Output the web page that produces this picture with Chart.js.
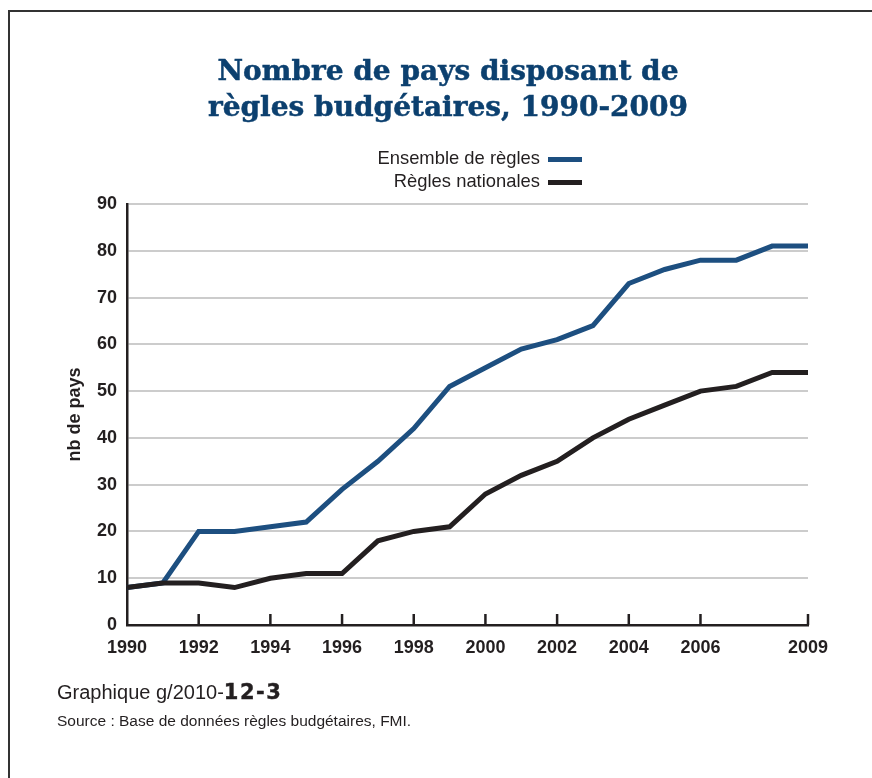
<!DOCTYPE html>
<html>
<head>
<meta charset="utf-8">
<script src="https://cdn.jsdelivr.net/npm/chart.js@4.4.0/dist/chart.umd.min.js"></script>
<style>
  html, body { margin: 0; padding: 0; background: #fff; }
  #wrap { position: relative; width: 872px; height: 778px; overflow: hidden; }
  #frame { position: absolute; left: 8px; top: 10px; right: -10px; bottom: -10px;
           border-top: 2px solid #333; border-left: 2px solid #333; }
  #title { position: absolute; left: 0; width: 896px; top: 53px; text-align: center;
           font-family: "DejaVu Serif", serif; font-weight: bold; font-size: 28px;
           line-height: 36px; color: #0c406f; -webkit-text-stroke: 0.5px #0c406f; }
  #fig { position: absolute; left: 57px; top: 680px; font-family: "Liberation Sans", Arial, sans-serif;
         font-size: 20px; color: #231f20; }
  #fig b { font-family: "DejaVu Sans", sans-serif; font-weight: 900; letter-spacing: 1.5px; font-size: 21px;
           -webkit-text-stroke: 0.4px #231f20; }
  #src { position: absolute; left: 57px; top: 712px; font-family: "Liberation Sans", Arial, sans-serif;
         font-size: 15.5px; color: #231f20; }
  canvas { position: absolute; left: 0; top: 0; }
</style>
</head>
<body>
<div id="wrap">
  <canvas id="c" width="872" height="778"></canvas>
  <div id="frame"></div>
  <div id="title">Nombre de pays disposant de<br>règles budgétaires, 1990-2009</div>
  <div id="fig">Graphique g/2010-<b>12-3</b></div>
  <div id="src">Source : Base de données règles budgétaires, FMI.</div>
</div>
<script>
const years = ['1990','1991','1992','1993','1994','1995','1996','1997','1998','1999',
               '2000','2001','2002','2003','2004','2005','2006','2007','2008','2009'];
const ensembleRegles = [8, 9, 20, 20, 21, 22, 29, 35, 42, 51, 55, 59, 61, 64, 73, 76, 78, 78, 81, 81];
const reglesNationales = [8, 9, 9, 8, 10, 11, 11, 18, 20, 21, 28, 32, 35, 40, 44, 47, 50, 51, 54, 54];
const xTickLabels = ['1990','1992','1994','1996','1998','2000','2002','2004','2006','2009'];
const yTicks = [0, 10, 20, 30, 40, 50, 60, 70, 80, 90];
const seriesNames = ['Ensemble de règles', 'Règles nationales'];
const axisTitle = 'nb de pays';

const BLUE = '#1d4f80';
const DARK = '#231f20';
const FONT = '"Liberation Sans", Arial, sans-serif';

const legendPlugin = {
  id: 'customLegend',
  afterDraw(chart) {
    const ctx = chart.ctx;
    ctx.save();
    ctx.font = '18.4px ' + FONT;
    ctx.textAlign = 'right';
    ctx.textBaseline = 'middle';
    const rows = [159, 182];
    chart.data.datasets.forEach((ds, i) => {
      const y = rows[i];
      ctx.fillStyle = DARK;
      ctx.fillText(ds.label, 540, y);
      ctx.strokeStyle = ds.borderColor;
      ctx.lineWidth = 5;
      ctx.beginPath();
      ctx.moveTo(548, y + 0.5);
      ctx.lineTo(582, y + 0.5);
      ctx.stroke();
    });
    ctx.restore();
  }
};

const tickMarkPlugin = {
  id: 'innerTicks',
  afterDatasetsDraw(chart) {
    const xs = chart.scales.x;
    const ctx = chart.ctx;
    ctx.save();
    ctx.strokeStyle = DARK;
    ctx.lineWidth = 2.5;
    xTickLabels.forEach((lab, i) => {
      if (i === 0) return;
      const idx = years.indexOf(lab);
      const px = xs.getPixelForValue(idx);
      ctx.beginPath();
      ctx.moveTo(px, xs.top);
      ctx.lineTo(px, xs.top - 11);
      ctx.stroke();
    });
    ctx.restore();
  }
};

new Chart(document.getElementById('c'), {
  type: 'line',
  data: {
    labels: years,
    datasets: [
      { label: seriesNames[0], data: ensembleRegles, borderColor: BLUE, borderWidth: 5,
        pointRadius: 0, tension: 0, fill: false, order: 2, borderJoinStyle: 'miter' },
      { label: seriesNames[1], data: reglesNationales, borderColor: DARK, borderWidth: 5,
        pointRadius: 0, tension: 0, fill: false, order: 1, borderJoinStyle: 'miter' }
    ]
  },
  options: {
    responsive: false,
    animation: false,
    events: [],
    layout: { padding: { left: 0, right: 64, top: 204, bottom: 0 } },
    plugins: { legend: { display: false }, title: { display: false }, tooltip: { enabled: false } },
    scales: {
      x: {
        type: 'category',
        offset: false,
        grid: { display: false },
        border: { display: true, color: DARK, width: 2.5 },
        ticks: {
          autoSkip: false, maxRotation: 0, padding: 4, color: DARK,
          font: { family: FONT, size: 18, weight: 'bold' },
          callback: function(v) { const l = years[v]; return xTickLabels.includes(l) ? l : ''; }
        },
        afterFit(s) { s.height = 153; }
      },
      y: {
        min: 0, max: 90,
        afterBuildTicks(s) { s.ticks = yTicks.map(v => ({ value: v })); },
        grid: { color: '#cccccc', lineWidth: 2, drawTicks: false },
        border: { display: true, color: DARK, width: 2.5 },
        ticks: { padding: 10, color: DARK, font: { family: FONT, size: 18, weight: 'bold' } },
        title: { display: true, text: axisTitle, color: DARK,
                 font: { family: FONT, size: 18, weight: 'bold' }, padding: { top: 64, bottom: 0 } },
        afterFit(s) { s.width = 127; }
      }
    }
  },
  plugins: [legendPlugin, tickMarkPlugin]
});
</script>
</body>
</html>
